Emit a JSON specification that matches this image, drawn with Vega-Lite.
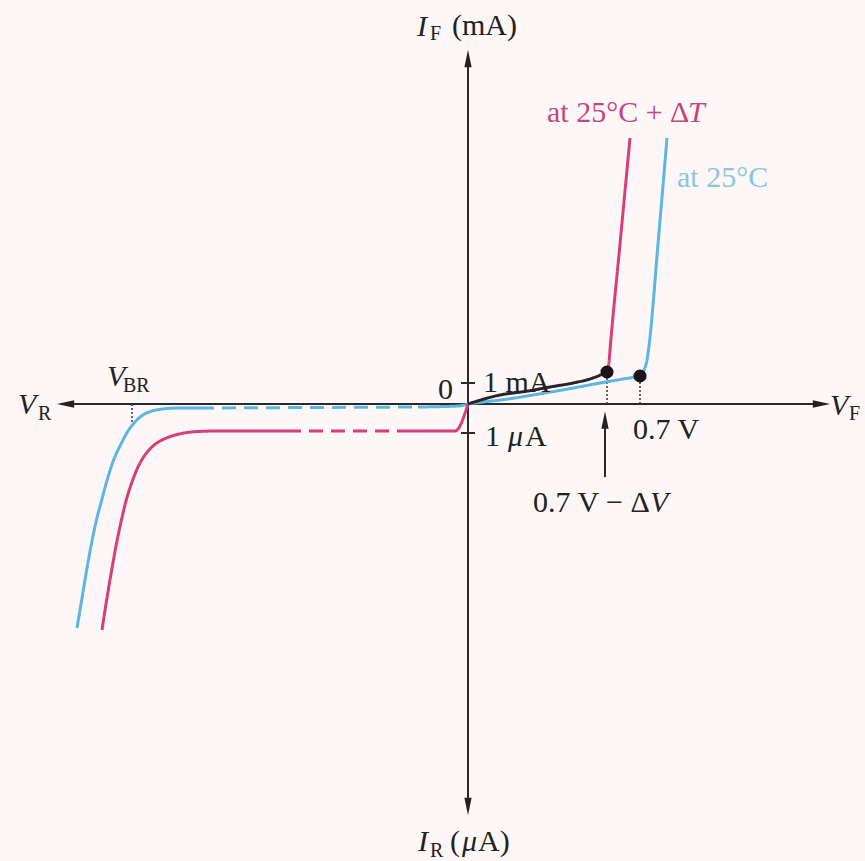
{
  "$schema": "https://vega.github.io/schema/vega-lite/v6.json",
  "width": 865,
  "height": 861,
  "autosize": {"type": "fit", "contains": "padding"},
  "padding": 0,
  "background": "#fdf7f7",
  "config": {"view": {"stroke": null}},
  "encoding": {
    "x": {"field": "x", "type": "quantitative", "scale": {"domain": [-468, 397], "nice": false, "zero": false}, "axis": null},
    "y": {"field": "y", "type": "quantitative", "scale": {"domain": [-457, 404], "nice": false, "zero": false}, "axis": null}
  },
  "layer": [
    {
      "data": {"values": [
        {"x": -400, "x2": 352, "y": 0, "y2": 0},
        {"x": 0, "x2": 0, "y": 344, "y2": -402}
      ]},
      "mark": {"type": "rule", "color": "#2a2a2a", "strokeWidth": 2},
      "encoding": {"x2": {"field": "x2"}, "y2": {"field": "y2"}}
    },
    {
      "data": {"values": [
        {"x": -7, "x2": 7, "y": 21, "y2": 21},
        {"x": -7, "x2": 7, "y": -29, "y2": -29},
        {"x": 137, "x2": 137, "y": -73, "y2": -14}
      ]},
      "mark": {"type": "rule", "color": "#2a2a2a", "strokeWidth": 2},
      "encoding": {"x2": {"field": "x2"}, "y2": {"field": "y2"}}
    },
    {
      "data": {"values": [
        {"x": 139, "x2": 139, "y": 30, "y2": 0},
        {"x": 172, "x2": 172, "y": 26, "y2": 0},
        {"x": -336, "x2": -336, "y": 0, "y2": -19}
      ]},
      "mark": {"type": "rule", "color": "#333", "strokeWidth": 1.5, "strokeDash": [2, 2]},
      "encoding": {"x2": {"field": "x2"}, "y2": {"field": "y2"}}
    },
    {
      "data": {"values": [
        {"series": "blue", "seg": "b1", "part": "solid", "x": -391, "y": -224},
        {"series": "blue", "seg": "b1", "part": "solid", "x": -387, "y": -200},
        {"series": "blue", "seg": "b1", "part": "solid", "x": -382, "y": -170},
        {"series": "blue", "seg": "b1", "part": "solid", "x": -377, "y": -142},
        {"series": "blue", "seg": "b1", "part": "solid", "x": -372, "y": -118},
        {"series": "blue", "seg": "b1", "part": "solid", "x": -366, "y": -95},
        {"series": "blue", "seg": "b1", "part": "solid", "x": -360, "y": -73},
        {"series": "blue", "seg": "b1", "part": "solid", "x": -354, "y": -55},
        {"series": "blue", "seg": "b1", "part": "solid", "x": -347, "y": -40},
        {"series": "blue", "seg": "b1", "part": "solid", "x": -340, "y": -27},
        {"series": "blue", "seg": "b1", "part": "solid", "x": -333, "y": -18},
        {"series": "blue", "seg": "b1", "part": "solid", "x": -325, "y": -11},
        {"series": "blue", "seg": "b1", "part": "solid", "x": -316, "y": -7},
        {"series": "blue", "seg": "b1", "part": "solid", "x": -305, "y": -5},
        {"series": "blue", "seg": "b1", "part": "solid", "x": -290, "y": -4},
        {"series": "blue", "seg": "b1", "part": "solid", "x": -268, "y": -4},
        {"series": "blue", "seg": "b2", "part": "dashed", "x": -268, "y": -4},
        {"series": "blue", "seg": "b2", "part": "dashed", "x": -50, "y": -3},
        {"series": "blue", "seg": "b3", "part": "solid", "x": -50, "y": -3},
        {"series": "blue", "seg": "b3", "part": "solid", "x": -10, "y": -2},
        {"series": "blue", "seg": "b3", "part": "solid", "x": 0, "y": 0},
        {"series": "blue", "seg": "b4", "part": "solid", "x": 0, "y": 0},
        {"series": "blue", "seg": "b4", "part": "solid", "x": 15, "y": 2},
        {"series": "blue", "seg": "b4", "part": "solid", "x": 40, "y": 5},
        {"series": "blue", "seg": "b4", "part": "solid", "x": 65, "y": 9},
        {"series": "blue", "seg": "b4", "part": "solid", "x": 100, "y": 15},
        {"series": "blue", "seg": "b4", "part": "solid", "x": 132, "y": 21},
        {"series": "blue", "seg": "b4", "part": "solid", "x": 155, "y": 25},
        {"series": "blue", "seg": "b4", "part": "solid", "x": 166, "y": 27},
        {"series": "blue", "seg": "b4", "part": "solid", "x": 172, "y": 29},
        {"series": "blue", "seg": "b4", "part": "solid", "x": 176, "y": 34},
        {"series": "blue", "seg": "b4", "part": "solid", "x": 179, "y": 44},
        {"series": "blue", "seg": "b4", "part": "solid", "x": 181, "y": 58},
        {"series": "blue", "seg": "b4", "part": "solid", "x": 190, "y": 160},
        {"series": "blue", "seg": "b4", "part": "solid", "x": 199, "y": 266},
        {"series": "pink", "seg": "p1", "part": "solid", "x": -366, "y": -226},
        {"series": "pink", "seg": "p1", "part": "solid", "x": -362, "y": -200},
        {"series": "pink", "seg": "p1", "part": "solid", "x": -357, "y": -170},
        {"series": "pink", "seg": "p1", "part": "solid", "x": -352, "y": -142},
        {"series": "pink", "seg": "p1", "part": "solid", "x": -347, "y": -118},
        {"series": "pink", "seg": "p1", "part": "solid", "x": -342, "y": -97},
        {"series": "pink", "seg": "p1", "part": "solid", "x": -336, "y": -78},
        {"series": "pink", "seg": "p1", "part": "solid", "x": -330, "y": -63},
        {"series": "pink", "seg": "p1", "part": "solid", "x": -323, "y": -51},
        {"series": "pink", "seg": "p1", "part": "solid", "x": -315, "y": -42},
        {"series": "pink", "seg": "p1", "part": "solid", "x": -306, "y": -36},
        {"series": "pink", "seg": "p1", "part": "solid", "x": -296, "y": -32},
        {"series": "pink", "seg": "p1", "part": "solid", "x": -284, "y": -29},
        {"series": "pink", "seg": "p1", "part": "solid", "x": -270, "y": -27.5},
        {"series": "pink", "seg": "p1", "part": "solid", "x": -250, "y": -27},
        {"series": "pink", "seg": "p1", "part": "solid", "x": -181, "y": -27},
        {"series": "pink", "seg": "p2", "part": "dashed", "x": -181, "y": -27},
        {"series": "pink", "seg": "p2", "part": "dashed", "x": -68, "y": -27},
        {"series": "pink", "seg": "p3", "part": "solid", "x": -68, "y": -27},
        {"series": "pink", "seg": "p3", "part": "solid", "x": -13, "y": -27},
        {"series": "pink", "seg": "p3", "part": "solid", "x": 0, "y": 0},
        {"series": "dark", "seg": "p4", "part": "solid", "x": 0, "y": 0},
        {"series": "dark", "seg": "p4", "part": "solid", "x": 32, "y": 9},
        {"series": "dark", "seg": "p4", "part": "solid", "x": 60, "y": 13},
        {"series": "dark", "seg": "p4", "part": "solid", "x": 82, "y": 17},
        {"series": "dark", "seg": "p4", "part": "solid", "x": 105, "y": 21},
        {"series": "dark", "seg": "p4", "part": "solid", "x": 125, "y": 26},
        {"series": "dark", "seg": "p4", "part": "solid", "x": 139, "y": 32},
        {"series": "pink", "seg": "p5", "part": "solid", "x": 139, "y": 32},
        {"series": "pink", "seg": "p5", "part": "solid", "x": 141, "y": 42},
        {"series": "pink", "seg": "p5", "part": "solid", "x": 142, "y": 54},
        {"series": "pink", "seg": "p5", "part": "solid", "x": 152, "y": 160},
        {"series": "pink", "seg": "p5", "part": "solid", "x": 162, "y": 266}
      ]},
      "mark": {"type": "line", "strokeWidth": 3, "interpolate": "monotone"},
      "encoding": {
        "color": {"field": "series", "type": "nominal", "scale": {"domain": ["blue", "pink", "dark"], "range": ["#5cb6e2", "#d83f78", "#2a2226"]}, "legend": null},
        "strokeDash": {"field": "part", "type": "nominal", "scale": {"domain": ["solid", "dashed"], "range": [[1, 0], [14, 8]]}, "legend": null},
        "detail": {"field": "seg"},
        "order": {"field": "x", "type": "quantitative"}
      }
    },
    {
      "data": {"values": [
        {"dir": "left", "x": -402.5, "y": 0},
        {"dir": "right", "x": 353.5, "y": 0},
        {"dir": "up", "x": 0, "y": 345.5},
        {"dir": "down", "x": 0, "y": -402.5},
        {"dir": "up", "x": 137, "y": -16}
      ]},
      "mark": {"type": "point", "filled": true, "color": "#222", "opacity": 1, "size": 300, "strokeWidth": 0},
      "encoding": {
        "shape": {"field": "dir", "type": "nominal", "scale": {"domain": ["left", "right", "up", "down"], "range": ["M-1,0L1,-0.42L1,0.42Z", "M1,0L-1,-0.42L-1,0.42Z", "M0,-1L0.42,1L-0.42,1Z", "M0,1L0.42,-1L-0.42,-1Z"]}, "legend": null}
      }
    },
    {
      "data": {"values": [
        {"x": 139, "y": 32},
        {"x": 172, "y": 28}
      ]},
      "mark": {"type": "point", "filled": true, "color": "#1a1416", "opacity": 1, "size": 170, "shape": "circle"}
    },
    {
      "data": {"values": [
        {"text": "(mA)", "x": -16, "y": 378},
        {"text": "0", "x": -30, "y": 14},
        {"text": "1 mA", "x": 15, "y": 21},
        {"text": "1", "x": 17, "y": -33},
        {"text": "A", "x": 57, "y": -33},
        {"text": "0.7 V", "x": 165, "y": -26},
        {"text": "0.7 V − Δ", "x": 65, "y": -99},
        {"text": "(", "x": -18, "y": -438},
        {"text": "A)", "x": 10, "y": -438}
      ]},
      "mark": {"type": "text", "align": "left", "baseline": "middle", "font": "Liberation Serif", "fontSize": 30, "color": "#222"},
      "encoding": {"text": {"field": "text"}}
    },
    {
      "data": {"values": [
        {"text": "I", "x": -51, "y": 377},
        {"text": "I", "x": -50, "y": -438},
        {"text": "μ", "x": 40, "y": -33},
        {"text": "μ", "x": -6, "y": -438},
        {"text": "V", "x": -450, "y": -1},
        {"text": "V", "x": -361, "y": 27},
        {"text": "V", "x": 362, "y": -2},
        {"text": "V", "x": 182, "y": -99}
      ]},
      "mark": {"type": "text", "align": "left", "baseline": "middle", "font": "Liberation Serif", "fontSize": 30, "fontStyle": "italic", "color": "#222"},
      "encoding": {"text": {"field": "text"}}
    },
    {
      "data": {"values": [
        {"text": "F", "x": -38, "y": 370},
        {"text": "R", "x": -38, "y": -447},
        {"text": "R", "x": -430, "y": -10},
        {"text": "BR", "x": -345, "y": 18},
        {"text": "F", "x": 381, "y": -10}
      ]},
      "mark": {"type": "text", "align": "left", "baseline": "middle", "font": "Liberation Serif", "fontSize": 20, "color": "#222"},
      "encoding": {"text": {"field": "text"}}
    },
    {
      "data": {"values": [
        {"text": "at 25°C + Δ", "x": 79, "y": 291}
      ]},
      "mark": {"type": "text", "align": "left", "baseline": "middle", "font": "Liberation Serif", "fontSize": 30, "color": "#c8457a"},
      "encoding": {"text": {"field": "text"}}
    },
    {
      "data": {"values": [
        {"text": "T", "x": 220, "y": 291}
      ]},
      "mark": {"type": "text", "align": "left", "baseline": "middle", "font": "Liberation Serif", "fontSize": 30, "fontStyle": "italic", "color": "#c8457a"},
      "encoding": {"text": {"field": "text"}}
    },
    {
      "data": {"values": [
        {"text": "at 25°C", "x": 209, "y": 226}
      ]},
      "mark": {"type": "text", "align": "left", "baseline": "middle", "font": "Liberation Serif", "fontSize": 30, "color": "#8cc6dc"},
      "encoding": {"text": {"field": "text"}}
    }
  ]
}
